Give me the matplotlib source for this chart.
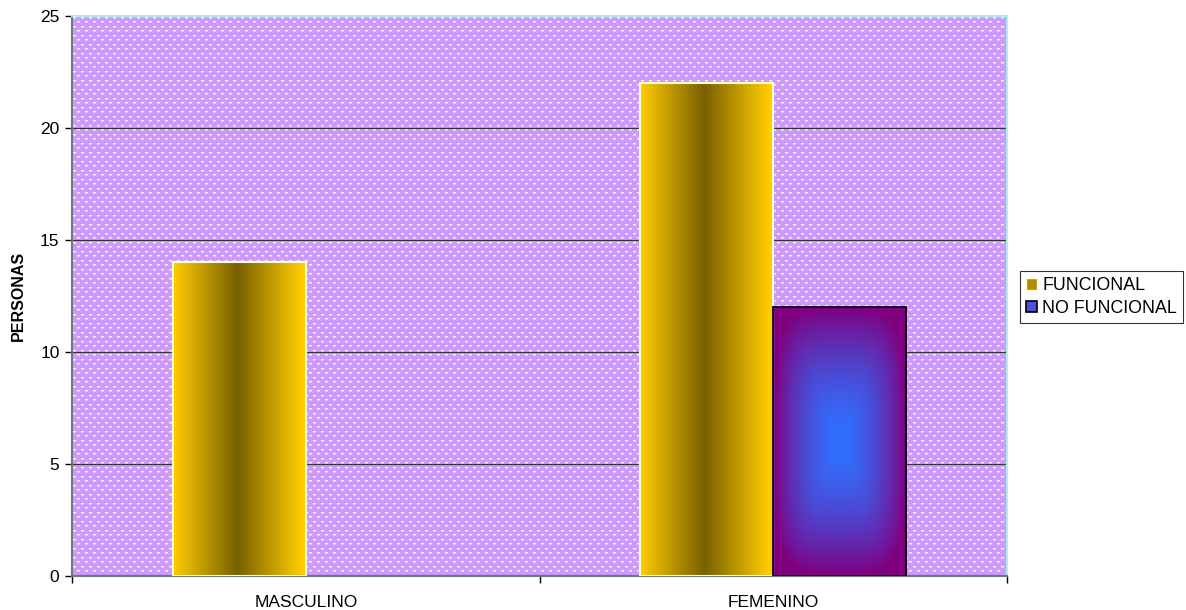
import numpy as np
import matplotlib.pyplot as plt
from matplotlib.patches import Patch

categories = ['MASCULINO', 'FEMENINO']
funcional = [14, 22]
no_funcional = [0, 12]
series_names = ['FUNCIONAL', 'NO FUNCIONAL']
y_ticks = [0, 5, 10, 15, 20, 25]

plt.rcParams['font.family'] = ['Liberation Sans', 'DejaVu Sans']

fig = plt.figure(figsize=(11.86, 6.1), dpi=100)
ax = fig.add_axes([72 / 1186, 34 / 610, 935 / 1186, 560 / 610])
ax.patch.set_visible(False)

# dotted purple background, placed pixel for pixel behind the axes
W, H = 935, 560
base = np.array([204, 153, 255]) / 255
cream = np.array([252, 246, 214]) / 255
soft = (cream + base) / 2
bg = np.empty((H, W, 3))
bg[:] = base
rows = []
r = 1
while r < H:
    rows.append(r)
    r += 4 if len(rows) % 2 else 5
for k, r in enumerate(rows):
    off = 1 if k % 2 == 0 else 5
    for c in range(off, W - 3, 8):
        bg[r, c:c + 3] = cream
        if r + 1 < H:
            bg[r + 1, c:c + 3] = soft
fig.figimage(bg, xo=72, yo=34, origin='upper', zorder=-1)

x = np.arange(len(categories))
w = 0.285

# horizontal gold gradient for FUNCIONAL
u = np.linspace(0, 1, 200)
t = np.clip(1 - np.abs(u - 0.48) / 0.48, 0, 1)
gold = np.array([255, 204, 0]) / 255
dark = np.array([120, 96, 0]) / 255
g1 = (gold[None, :] * (1 - t[:, None]) + dark[None, :] * t[:, None])[None, :, :]

# rectangular gradient for NO FUNCIONAL: blue centre, purple edges
uu, vv = np.meshgrid(np.linspace(-1, 1, 200), np.linspace(-1, 1, 300))
tt = np.clip((np.abs(uu) ** 4 + np.abs(vv) ** 4) ** 0.25, 0, 1) ** 1.6
blue = np.array([48, 112, 255]) / 255
purple = np.array([128, 0, 128]) / 255
g2 = blue * (1 - tt[..., None]) + purple * tt[..., None]

b1 = ax.bar(x - w / 2, funcional, w, facecolor='none', edgecolor='#ffffcc', linewidth=1.5, zorder=3)
b2 = ax.bar(x + w / 2, no_funcional, w, facecolor='none', edgecolor='black', linewidth=1.3, zorder=3)

for bars, grad in ((b1, g1), (b2, g2)):
    for bar in bars:
        if bar.get_height() <= 0:
            bar.set_visible(False)
            continue
        x0, y0 = bar.get_x(), bar.get_y()
        im = ax.imshow(grad, extent=(x0, x0 + bar.get_width(), y0, y0 + bar.get_height()),
                       aspect='auto', interpolation='bilinear', zorder=2)
        im.set_clip_path(bar)

ax.set_xlim(-0.5, 1.5)
ax.set_ylim(0, 25)
ax.set_yticks(y_ticks)
for yv in y_ticks[1:-1]:
    ax.axhline(yv, color='#333333', linewidth=0.8, zorder=1)

ax.set_xticks(x)
ax.set_xticklabels(categories)
ax.set_xticks([-0.5, 0.5, 1.5], minor=True)
ax.tick_params(axis='x', which='major', length=0, pad=14, labelsize=12.5)
ax.tick_params(axis='x', which='minor', length=5, width=1, color='black')
ax.tick_params(axis='y', length=5, width=1, labelsize=12.5, pad=4)

ax.set_ylabel('PERSONAS', fontsize=11.5, fontweight='bold', labelpad=10)

for side in ('left', 'bottom'):
    ax.spines[side].set_color('#6a7a7a')
    ax.spines[side].set_linewidth(1.5)
for side in ('top', 'right'):
    ax.spines[side].set_color('#aaeeee')
    ax.spines[side].set_linewidth(1.5)

handles = [Patch(facecolor='#b08c00', edgecolor='#ffffcc', linewidth=1),
           Patch(facecolor='#5050e0', edgecolor='black', linewidth=1.2)]
leg = fig.legend(handles, series_names, loc='center left', bbox_to_anchor=(1020 / 1186, 0.513),
                 fontsize=12.8, frameon=True, fancybox=False, edgecolor='black',
                 handlelength=0.6, handleheight=0.6, handletextpad=0.3,
                 borderpad=0.35, labelspacing=0.3, borderaxespad=0)
leg.get_frame().set_linewidth(0.8)

fig.savefig('out.png', dpi=100)
